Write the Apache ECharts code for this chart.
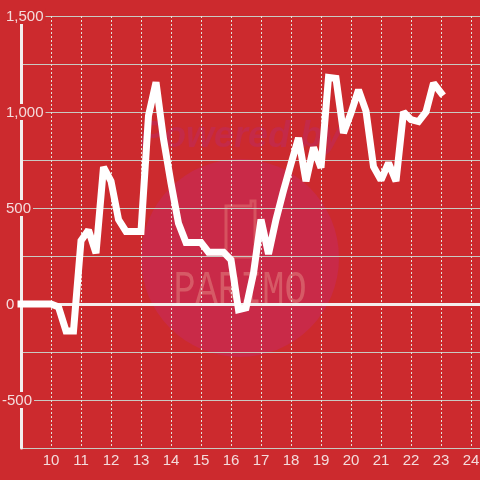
<!DOCTYPE html>
<html>
<head>
<meta charset="utf-8">
<style>
html,body{margin:0;padding:0;background:#cc2a2e;}
#main{width:480px;height:480px;}
</style>
<script src="https://cdn.jsdelivr.net/npm/echarts@6/dist/echarts.min.js"></script>
</head>
<body>
<div id="main"></div>
<script>
var hours = [9,9.25,9.5,9.75,10,10.25,10.5,10.75,11,11.25,11.5,11.75,12,12.25,12.5,12.75,13,13.25,13.5,13.75,14,14.25,14.5,14.75,15,15.25,15.5,15.75,16,16.25,16.5,16.75,17,17.25,17.5,17.75,18,18.25,18.5,18.75,19,19.25,19.5,19.75,20,20.25,20.5,20.75,21,21.25,21.5,21.75,22,22.25,22.5,22.75,23];
var values = [0,0,0,0,0,-15,-140,-140,330,385,265,713,640,440,378,378,378,980,1155,860,630,420,320,320,320,270,270,270,230,-30,-20,160,440,260,440,590,730,865,640,815,710,1180,1175,890,995,1115,1005,715,645,735,640,1000,960,950,1000,1150,1100];
var watermarkTop = 'Powered by';
var watermarkBottom = 'PARIMO';

var points = [];
for (var i = 0; i < hours.length; i++) {
    points.push([hours[i], values[i]]);
}

var labelColor = '#f4dcdc';
var bgColor = '#cc2a2e';

var option = {
    backgroundColor: bgColor,
    animation: false,
    grid: { left: 21, top: 16, right: 0, bottom: 32, containLabel: false, outerBoundsMode: 'none' },
    graphic: [
        { type: 'circle', z: -1, shape: { cx: 240, cy: 258, r: 99 }, style: { fill: '#c92a48' } },
        { type: 'text', z: -1, x: 241, y: 137, style: {
            text: watermarkTop, fill: '#c42a48', align: 'center', verticalAlign: 'middle',
            fontStyle: 'italic', fontWeight: 'bold', fontSize: 36, fontFamily: 'Liberation Sans' } },
        { type: 'polyline', z: -1, shape: { points: [[226,257],[226,206],[251,206],[251,201],[255,201],[255,257],[226,257]] },
            style: { fill: null, stroke: '#d6525f', lineWidth: 3 } },
        { type: 'text', z: -1, x: 240, y: 291, scaleY: 1.25, style: {
            text: watermarkBottom, fill: '#d65a66', align: 'center', verticalAlign: 'middle',
            fontSize: 37, fontFamily: 'Liberation Mono' } }
    ],
    xAxis: {
        type: 'value',
        min: 9,
        max: 24.3,
        interval: 1,
        axisLine: { show: true, onZero: true, lineStyle: { color: '#f3eeee', width: 3 } },
        axisTick: { show: false },
        axisLabel: {
            color: labelColor,
            fontFamily: 'Liberation Sans',
            fontSize: 15,
            margin: 5,
            hideOverlap: false,
            showMinLabel: false,
            showMaxLabel: false
        },
        splitLine: { show: true, showMinLine: false, showMaxLine: false, lineStyle: { color: '#e2e2da', width: 1, type: [2, 2] } }
    },
    yAxis: {
        type: 'value',
        min: -750,
        max: 1500,
        interval: 250,
        axisLine: { show: true, onZero: false, lineStyle: { color: '#f3eeee', width: 3 } },
        axisTick: { show: false },
        axisLabel: {
            color: labelColor,
            fontFamily: 'Liberation Sans',
            fontSize: 15,
            align: 'left',
            margin: 19,
            formatter: function (v) {
                if (v % 500 !== 0) return '';
                var s = Math.abs(v) >= 1000 ? String(v).replace(/(\d)(\d{3})$/, '$1,$2') : String(v);
                return (v < 0 ? '{n|' : '{p|') + s + '}';
            },
            rich: {
                p: { color: labelColor, fontFamily: 'Liberation Sans', fontSize: 15, height: 15, lineHeight: 15, backgroundColor: bgColor, padding: [1, 2, 0, 4] },
                n: { color: labelColor, fontFamily: 'Liberation Sans', fontSize: 15, height: 15, lineHeight: 15, backgroundColor: bgColor, padding: [1, 2, 0, 0] }
            }
        },
        splitLine: { show: true, lineStyle: { color: '#c9c9c2', width: 1 } }
    },
    series: [{
        type: 'line',
        data: points,
        symbol: 'none',
        smooth: false,
        clip: false,
        lineStyle: { color: '#ffffff', width: 7, join: 'miter', miterLimit: 2, cap: 'square' },
        z: 5
    }]
};

var myChart = echarts.init(document.getElementById('main'));
myChart.setOption(option);
</script>
</body>
</html>
